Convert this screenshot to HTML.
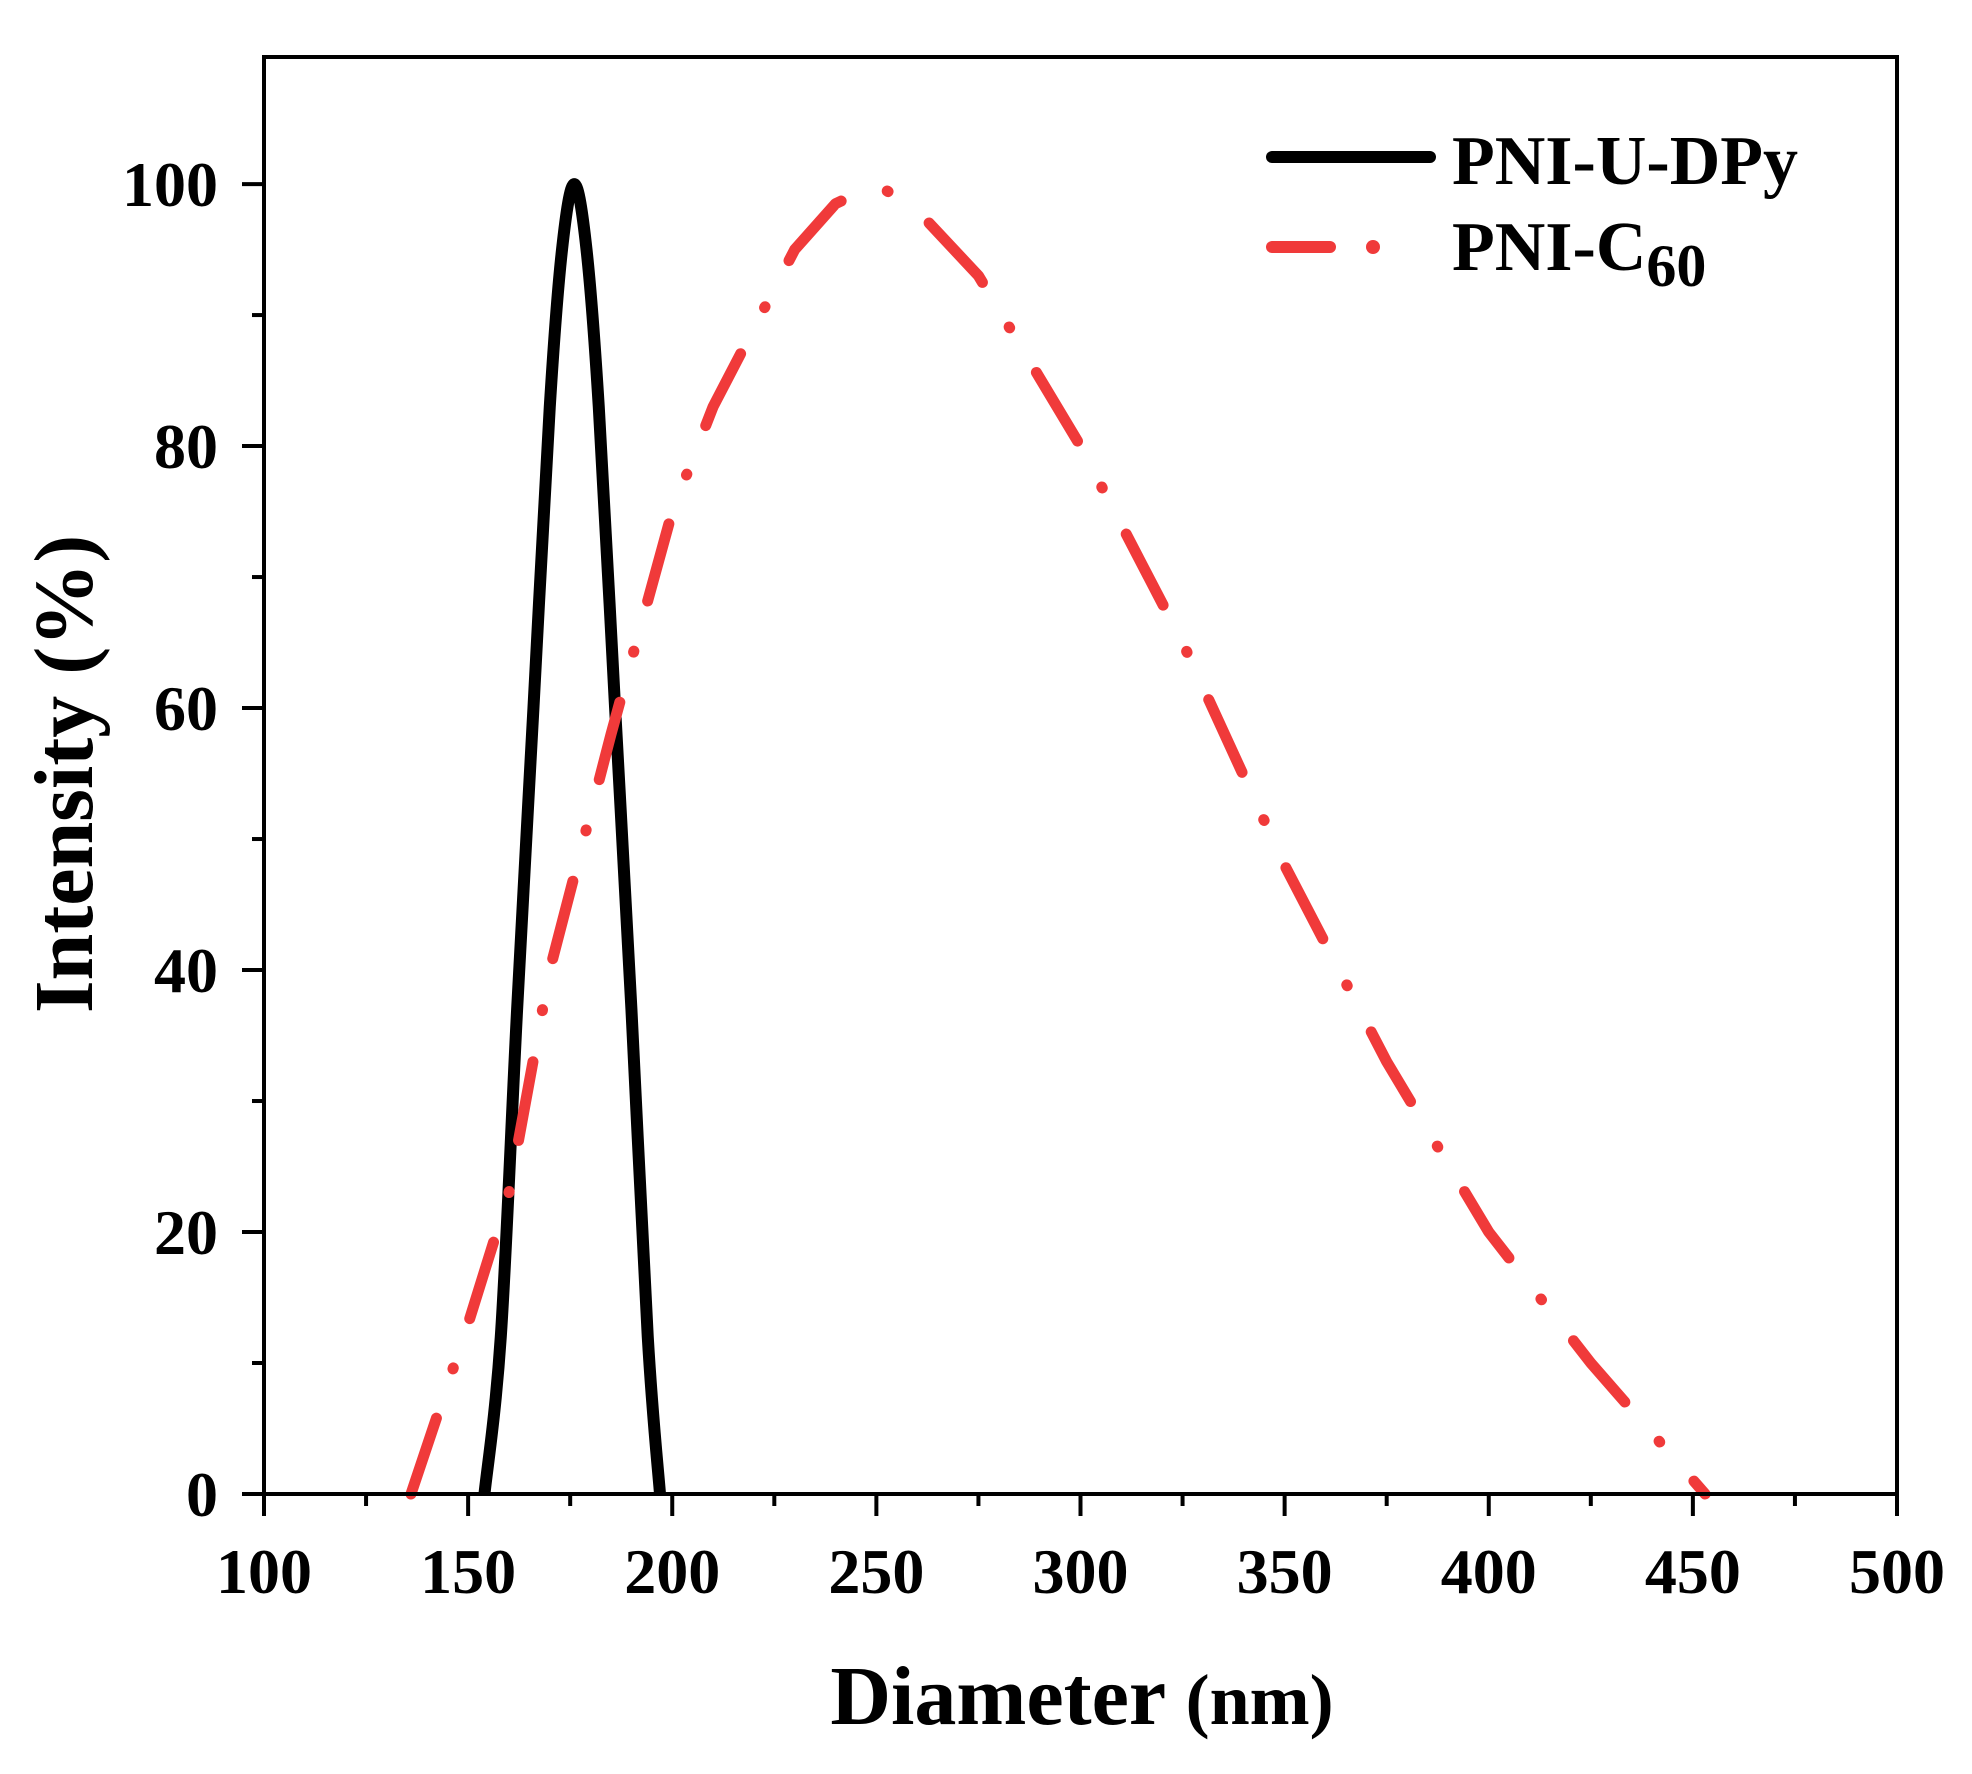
<!DOCTYPE html>
<html><head><meta charset="utf-8"><style>
html,body{margin:0;padding:0;background:#fff;}
svg{display:block;font-family:"Liberation Serif",serif;font-weight:bold;}
</style></head><body>
<svg id="chart" width="1972" height="1774" viewBox="0 0 1972 1774" xmlns="http://www.w3.org/2000/svg">
<g id="plot"></g>
<g id="axes"></g>
<text x="1082" y="1724" font-size="84" text-anchor="middle">Diameter <tspan font-size="72">(nm)</tspan></text>
<text transform="translate(92,774) rotate(-90)" font-size="84" text-anchor="middle">Intensity (%)</text>
<g>
  <line x1="1272" y1="157" x2="1430" y2="157" stroke="#000" stroke-width="12" stroke-linecap="round"/>
  <text x="1452" y="184" font-size="70">PNI-U-DPy</text>
  <line x1="1272" y1="247" x2="1330" y2="247" stroke="#f03a3a" stroke-width="12" stroke-linecap="round"/>
  <circle cx="1373" cy="247" r="7" fill="#f03a3a"/>
  <text x="1452" y="270" font-size="70">PNI-C<tspan font-size="60" dy="16">60</tspan></text>
</g>
</svg>
<script>
const xTicks = [100,150,200,250,300,350,400,450,500];
const yTicks = [0,20,40,60,80,100];
const blackX = [154,158,162,166,170,173,176,179,182,186,190,194,197];
const blackY = [0,12,37,60,83,95,100,95,83,60,37,12,0];
const redX = [136,150,160,170,185,200,210,220,230,240,250,260,275,300,325,350,375,400,425,453];
const redY = [0,13,23,40,58,75,83,89,95,98.5,100,98,93,80,65,48,33,20,10,0];

const L=264,R=1897,T=57,B=1494;
const X0=100,X1=500,Y0=0,Y1=109.7;
const sx=v=>L+(v-X0)/(X1-X0)*(R-L);
const sy=v=>B-(v-Y0)/(Y1-Y0)*(B-T);
const NS="http://www.w3.org/2000/svg";
const plot=document.getElementById('plot'), axes=document.getElementById('axes');
function mk(tag,attrs,parent){const e=document.createElementNS(NS,tag);for(const k in attrs)e.setAttribute(k,attrs[k]);parent.appendChild(e);return e;}

const bp=blackX.map((x,i)=>[sx(x),sy(blackY[i])]);
let d=`M${bp[0][0]},${bp[0][1]}`;
for(let i=0;i<bp.length-1;i++){
  const p0=bp[Math.max(0,i-1)],p1=bp[i],p2=bp[i+1],p3=bp[Math.min(bp.length-1,i+2)];
  const c1=[p1[0]+(p2[0]-p0[0])/6,p1[1]+(p2[1]-p0[1])/6];
  const c2=[p2[0]-(p3[0]-p1[0])/6,p2[1]-(p3[1]-p1[1])/6];
  d+=` C${c1[0]},${c1[1]} ${c2[0]},${c2[1]} ${p2[0]},${p2[1]}`;
}
const bl=mk('path',{d:d,fill:'none',stroke:'#000','stroke-width':12,'stroke-linejoin':'round'},plot);



const rp=redX.map((x,i)=>`${sx(x)},${sy(redY[i])}`).join(' ');
const rl=mk('polyline',{points:rp,fill:'none',stroke:'#f03a3a','stroke-width':11,'stroke-linecap':'round','stroke-linejoin':'round','stroke-dasharray':'80 52 1 52'},plot);



const fr=mk('rect',{x:L,y:T,width:R-L,height:B-T,fill:'none',stroke:'#000','stroke-width':4},axes);



for(let v=100;v<=500;v+=25){
  const major=(v%50===0);
  const t=mk('line',{x1:sx(v),x2:sx(v),y1:B,y2:B+(major?22:12),stroke:'#000','stroke-width':4},axes);
  
  
}
xTicks.forEach(v=>{
  const t=mk('text',{x:sx(v),y:1593,'font-size':64,'text-anchor':'middle'},axes);
  t.textContent=v;
  
  
});
for(let v=0;v<=100;v+=10){
  const major=(v%20===0);
  const t=mk('line',{x1:L,x2:L-(major?22:12),y1:sy(v),y2:sy(v),stroke:'#000','stroke-width':4},axes);
  
  
}
yTicks.forEach(v=>{
  const t=mk('text',{x:218,y:sy(v)+22,'font-size':64,'text-anchor':'end'},axes);
  t.textContent=v;
  
  
});
</script>
</body></html>
